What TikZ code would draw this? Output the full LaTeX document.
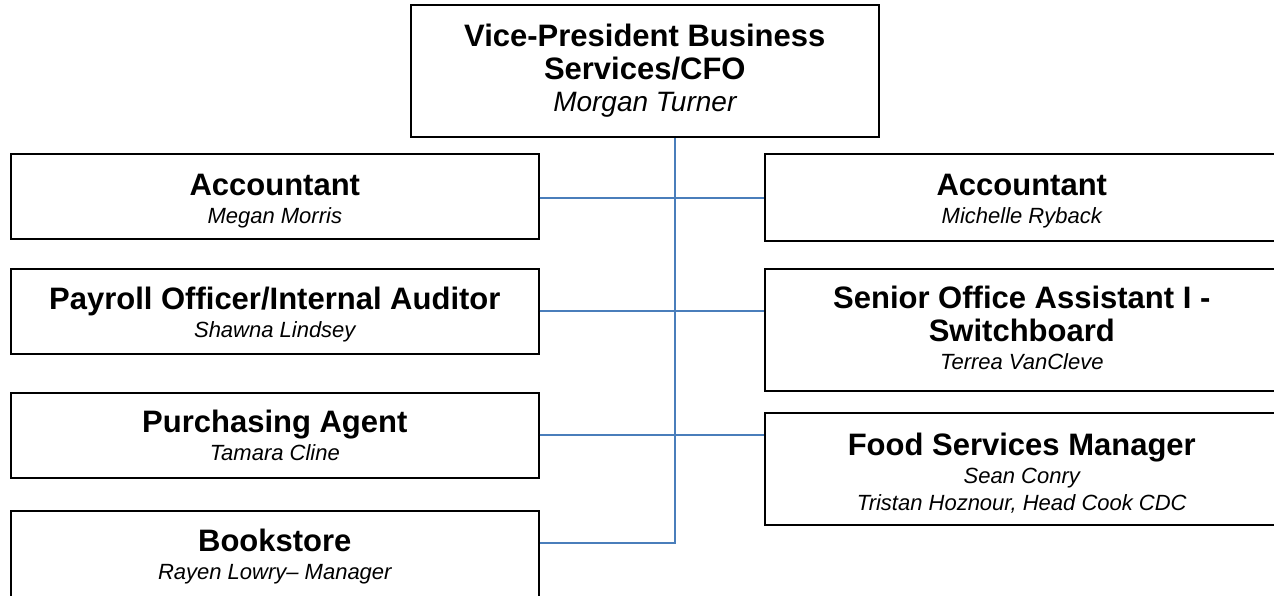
\documentclass[tikz,border=0pt]{standalone}
\usepackage{fontspec}
\setmainfont{Liberation Sans}
\definecolor{linkblue}{RGB}{74,126,187}
\lineskip=0pt
\lineskiplimit=0pt
% lines of a box: title, name, larger name; struts fix the spacing
\newcommand{\role}[1]{{\fontsize{31pt}{1pt}\selectfont\bfseries\rule[-10pt]{0pt}{32pt}#1}}
\newcommand{\who}[1]{{\fontsize{22pt}{1pt}\selectfont\itshape\rule[-9pt]{0pt}{27pt}#1}}
\newcommand{\bigwho}[1]{{\fontsize{28pt}{1pt}\selectfont\itshape\rule[-9pt]{0pt}{31pt}#1}}
\newcommand{\lead}[1]{\rule{0pt}{#1pt}}
\newcommand{\tail}[1]{\rule[-#1pt]{0pt}{#1pt}}
\tikzset{
  post/.style={draw, line width=1.6pt, align=center, inner sep=0pt, anchor=north west,
    font=\fontsize{22pt}{1pt}\selectfont},
  leftpost/.style={post, minimum width=528pt},
  rightpost/.style={post, minimum width=514pt},
  link/.style={draw=linkblue, line width=1.8pt},
}
\begin{document}
\begin{tikzpicture}[x=1pt,y=-1pt]
\useasboundingbox (0,0) rectangle (1274,595);
\clip (0,0) rectangle (1274,595);
% head of the department
\node[post, minimum width=468pt] (vp) at (410,4)
  {\lead{42}\role{Vice-President Business}\\\role{Services/CFO}\\\bigwho{Morgan Turner}\tail{26}};
% left column
\node[leftpost] (accl) at (10,153) {\lead{42}\role{Accountant}\\\who{Megan Morris}\tail{15}};
\node[leftpost] (payl) at (10,268) {\lead{41}\role{Payroll Officer/Internal Auditor}\\\who{Shawna Lindsey}\tail{16}};
\node[leftpost] (purch) at (10,392) {\lead{40}\role{Purchasing Agent}\\\who{Tamara Cline}\tail{17}};
\node[leftpost] (bkst) at (10,510) {\lead{41}\role{Bookstore}\\\who{Rayen Lowry-- Manager}\tail{21}};
% right column
\node[rightpost] (accr) at (764,153) {\lead{42}\role{Accountant}\\\who{Michelle Ryback}\tail{17}};
\node[rightpost] (sen) at (764,268)
  {\lead{40}\role{Senior Office Assistant I -}\\\role{Switchboard}\\\who{Terrea VanCleve}\tail{22}};
\node[rightpost] (food) at (764,412)
  {\lead{43}\role{Food Services Manager}\\\who{Sean Conry}\\\who{Tristan Hoznour, Head Cook CDC}\tail{14}};
% connectors
\coordinate (trunk) at ([xshift=30pt]vp.south);
\path ([yshift=-33pt]bkst.north east) coordinate (bend);
\path ([yshift=-45pt]accl.north east) coordinate (top);
\draw[link] (trunk) -- (bend -| trunk) -- (bend);
\draw[link] (top) -- (top -| accr.west);
\draw[link] (payl.east) -- (payl.east -| sen.west);
\draw[link] (purch.east) -- (purch.east -| food.west);
\end{tikzpicture}
\end{document}
